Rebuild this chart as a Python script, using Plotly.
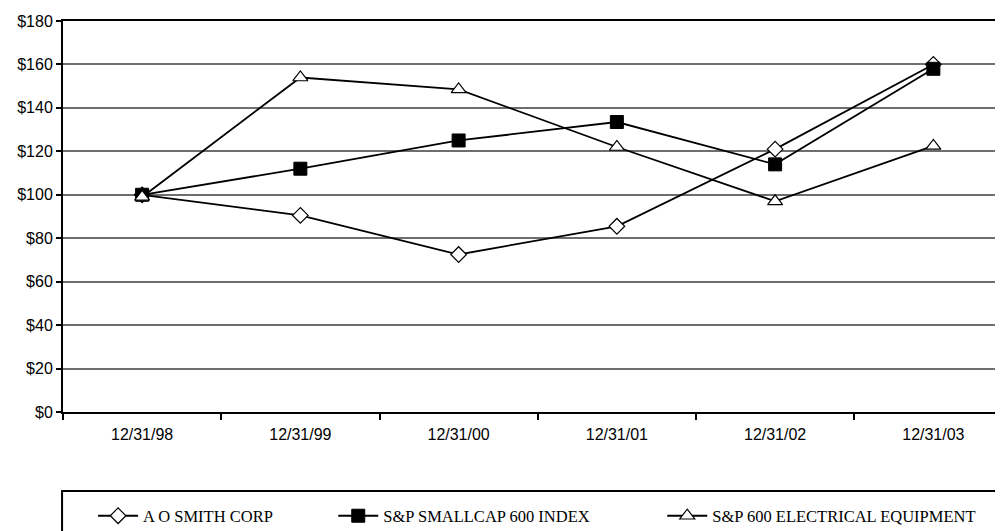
import plotly.graph_objects as go

dates = ["12/31/98", "12/31/99", "12/31/00", "12/31/01", "12/31/02", "12/31/03"]
ao_smith = [100, 90.5, 72.5, 85.5, 121, 160]
smallcap = [100, 112, 125, 133.5, 114, 158]
electrical = [99, 154, 148.5, 122, 97, 122.5]
y_ticks = [0, 20, 40, 60, 80, 100, 120, 140, 160, 180]
y_tick_text = ["$" + str(v) for v in y_ticks]

fig = go.Figure()
fig.add_trace(go.Scatter(
    x=dates, y=ao_smith, name="A O SMITH CORP", mode="lines+markers", legend="legend",
    line=dict(color="black", width=1.8),
    marker=dict(symbol="diamond", size=12, color="white", line=dict(color="black", width=1.2))))
fig.add_trace(go.Scatter(
    x=dates, y=smallcap, name="S&P SMALLCAP 600 INDEX", mode="lines+markers", legend="legend2",
    line=dict(color="black", width=1.8),
    marker=dict(symbol="square", size=13, color="black", line=dict(color="black", width=1))))
fig.add_trace(go.Scatter(
    x=dates, y=electrical, name="S&P 600 ELECTRICAL EQUIPMENT", mode="lines+markers", legend="legend3",
    line=dict(color="black", width=1.8),
    marker=dict(symbol="triangle-up", size=13, color="white", line=dict(color="black", width=1.2))))

fig.add_shape(type="rect", xref="paper", yref="paper",
              x0=-0.001, x1=1.02, y0=-0.202, y1=-0.6,
              line=dict(color="black", width=2), fillcolor="rgba(0,0,0,0)")

leg_font = dict(family="Liberation Serif, Times New Roman", size=16.5, color="black")
leg_common = dict(orientation="h", xanchor="left", y=-0.266, yanchor="middle",
                  font=leg_font, bgcolor="rgba(0,0,0,0)", itemwidth=40)

fig.update_layout(
    width=995, height=523,
    margin=dict(l=55, r=0, t=13, b=119, autoexpand=False),
    paper_bgcolor="white", plot_bgcolor="white",
    font=dict(family="Liberation Sans, Arial", size=16, color="black"),
    showlegend=True,
    legend=dict(x=0.032, **leg_common),
    legend2=dict(x=0.2875, **leg_common),
    legend3=dict(x=0.6375, **leg_common),
    xaxis=dict(type="category", range=[-0.5, 5.44], tickson="boundaries",
               ticks="outside", ticklen=6, tickcolor="black", tickwidth=1.5,
               showline=True, linecolor="black", linewidth=2, mirror=True,
               showgrid=False, zeroline=False, automargin=False,
               ticklabelstandoff=7,
               tickfont=dict(family="Liberation Sans, Arial", size=16)),
    yaxis=dict(range=[0, 180], tickvals=y_ticks, ticktext=y_tick_text,
               ticks="outside", ticklen=5, tickcolor="black", tickwidth=1.5,
               showline=True, linecolor="black", linewidth=2,
               showgrid=True, gridcolor="#6e6e6e", gridwidth=1.8, zeroline=False,
               automargin=False,
               tickfont=dict(family="Liberation Sans, Arial", size=16)),
)

fig.write_html("out.html")
